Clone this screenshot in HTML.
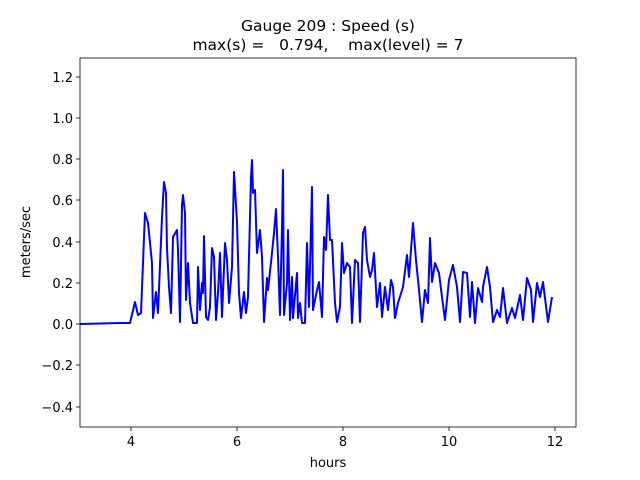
<!DOCTYPE html>
<html><head><meta charset="utf-8"><style>body{margin:0;background:#fff}svg{display:block}text{font-family:"DejaVu Sans","Liberation Sans",sans-serif;fill:#000}</style></head><body>
<svg width="640" height="480" viewBox="0 0 640 480">
<rect width="640" height="480" fill="#fff"/>
<defs><clipPath id="c"><rect x="80" y="58" width="496" height="369"/></clipPath></defs>
<polyline clip-path="url(#c)" fill="none" stroke="#0000ff" stroke-width="2" stroke-linejoin="round" points="80,324 120,323 130,323 135,302 138,315 141,313 145,213 148,223 152,263 153,318 156,292 158,313 162,217 164,182 166,193 167,248 169,287 171,313 173,237 177,230 178,250 180,322 182,205 183,195 185,213 186,300 188,263 190,303 193,323 197,323 198,267 200,310 202,283 203,293 204,236 206,317 208,320 210,307 212,248 214,257 216,320 218,293 220,253 222,317 225,243 227,260 229,303 232,267 234,172 237,222 239,293 241,318 244,292 246,313 248,297 251,177 252,160 253,193 255,190 257,253 260,230 262,257 264,322 267,278 268,290 272,253 274,233 276,209 278,257 280,315 282,227 283,170 284,315 287,283 288,230 290,320 292,277 293,318 297,273 298,318 300,303 302,323 305,323 307,243 309,307 312,187 313,310 317,290 319,282 322,317 324,237 326,250 328,195 330,240 332,240 335,303 337,322 340,307 342,243 344,273 347,263 350,267 352,323 355,260 358,263 360,322 363,233 365,227 367,260 370,277 372,270 374,253 377,307 380,283 382,317 385,287 388,310 391,280 393,287 395,318 398,303 403,287 407,255 409,277 413,223 416,260 419,290 422,322 425,290 428,303 430,238 432,282 435,263 439,273 442,297 445,320 449,280 453,265 457,287 460,322 463,272 467,273 470,317 472,282 475,323 478,288 482,302 483,287 487,267 490,287 493,322 497,310 500,317 503,288 507,323 512,308 515,318 520,295 523,320 527,278 531,290 533,322 537,283 540,297 543,282 548,322 552,297"/>
<rect x="80" y="58" width="496" height="369" fill="none" stroke="#000" stroke-width="0.8"/>
<g stroke="#000" stroke-width="0.8">
<line x1="131" y1="427" x2="131" y2="431"/><line x1="237" y1="427" x2="237" y2="431"/><line x1="343" y1="427" x2="343" y2="431"/><line x1="449" y1="427" x2="449" y2="431"/><line x1="555" y1="427" x2="555" y2="431"/>
<line x1="76" y1="77" x2="80" y2="77"/><line x1="76" y1="118" x2="80" y2="118"/><line x1="76" y1="159" x2="80" y2="159"/><line x1="76" y1="200" x2="80" y2="200"/><line x1="76" y1="242" x2="80" y2="242"/><line x1="76" y1="283" x2="80" y2="283"/><line x1="76" y1="324" x2="80" y2="324"/><line x1="76" y1="365" x2="80" y2="365"/><line x1="76" y1="407" x2="80" y2="407"/>
</g>
<g font-size="13" text-anchor="middle">
<text x="131" y="446">4</text><text x="237" y="446">6</text><text x="343" y="446">8</text><text x="449" y="446">10</text><text x="555" y="446">12</text>
<text x="328" y="467">hours</text>
</g>
<g font-size="13" text-anchor="end">
<text x="73" y="82">1.2</text><text x="73" y="123">1.0</text><text x="73" y="164">0.8</text><text x="73" y="205">0.6</text><text x="73" y="247">0.4</text><text x="73" y="288">0.2</text><text x="73" y="329">0.0</text><text x="73" y="370">−0.2</text><text x="73" y="412">−0.4</text>
</g>
<text font-size="13" text-anchor="middle" transform="translate(30,242) rotate(-90)">meters/sec</text>
<text font-size="15.5" text-anchor="middle" x="328" y="31">Gauge 209 : Speed (s)</text>
<text font-size="15.5" text-anchor="middle" x="328" y="50" xml:space="preserve">max(s) =   0.794,    max(level) = 7</text>
</svg>
</body></html>
